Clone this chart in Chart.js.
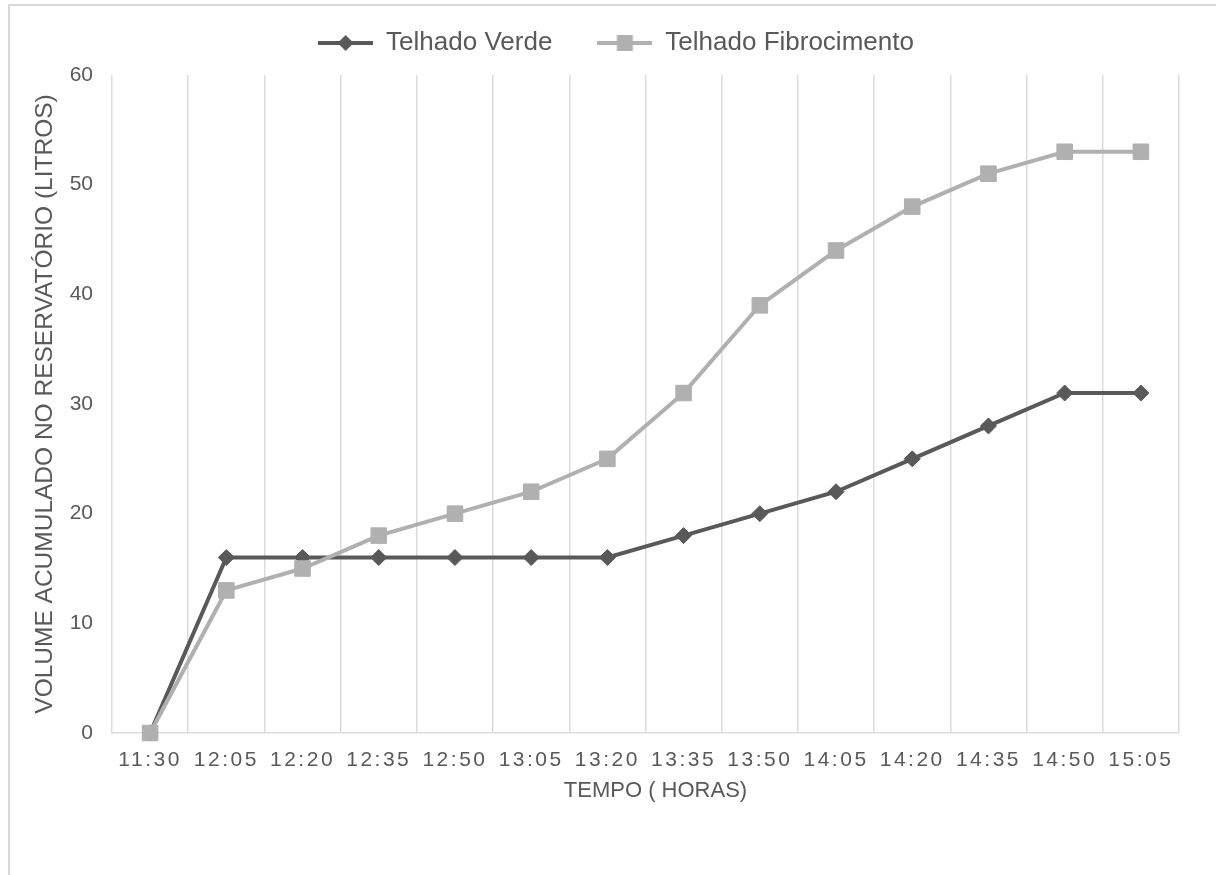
<!DOCTYPE html>
<html>
<head>
<meta charset="utf-8">
<script src="https://cdn.jsdelivr.net/npm/chart.js@4"></script>
<style>
  body { margin: 0; background: #fff; overflow: hidden; }
  #frame { position: absolute; left: 8px; top: 4px; width: 1230px; height: 900px; border: 2px solid #d9d9d9; }
  #wrap { position: absolute; left: 0; top: -15px; width: 1216px; height: 890px; }
</style>
</head>
<body>
<div id="frame"></div>
<div id="wrap"><canvas id="grafico"></canvas></div>
<script>
const horarios = ['11:30', '12:05', '12:20', '12:35', '12:50', '13:05', '13:20', '13:35', '13:50', '14:05', '14:20', '14:35', '14:50', '15:05'];
const telhadoVerde = [0, 16, 16, 16, 16, 16, 16, 18, 20, 22, 25, 28, 31, 31];
const telhadoFibrocimento = [0, 13, 15, 18, 20, 22, 25, 31, 39, 44, 48, 51, 53, 53];
const yTicks = [0, 10, 20, 30, 40, 50, 60];

const corVerde = '#595959';
const corFibro = '#b0b0b0';
const fonte = "'Liberation Sans', Arial, sans-serif";

// small picture of line + marker for the legend
function legendIcon(color, shape) {
    const c = document.createElement('canvas');
    c.width = 55; c.height = 24;
    const g = c.getContext('2d');
    g.strokeStyle = color; g.fillStyle = color; g.lineWidth = 4;
    g.beginPath(); g.moveTo(0, 12); g.lineTo(55, 12); g.stroke();
    g.beginPath();
    if (shape === 'diamond') {
        g.moveTo(27.5, 4); g.lineTo(35.5, 12); g.lineTo(27.5, 20); g.lineTo(19.5, 12);
    } else {
        g.rect(19.5, 4, 16, 16);
    }
    g.closePath(); g.fill();
    return c;
}
const icons = [legendIcon(corVerde, 'diamond'), legendIcon(corFibro, 'square')];

const ajustes = {
    id: 'ajustes',
    afterInit(chart) {
        const lg = chart.legend;
        const fit = lg.fit.bind(lg);
        lg.fit = function () { fit(); this.height += 9; };
    },
    afterLayout(chart) {
        chart.legend.left += 13;
        chart.legend.right += 13;
        const s = chart.scales.x;
        if (!s._espacado) {
            const orig = s.drawLabels;
            s.drawLabels = function (area) {
                this.ctx.save();
                this.ctx.letterSpacing = '2.5px';
                orig.call(this, area);
                this.ctx.restore();
            };
            const origTitle = s.drawTitle;
            s.drawTitle = function () {
                this.ctx.save();
                this.ctx.translate(10, 0);
                origTitle.call(this);
                this.ctx.restore();
            };
            s._espacado = true;
        }
    }
};

const ctx = document.getElementById('grafico').getContext('2d');
const grafico = new Chart(ctx, {
    type: 'line',
    data: {
        labels: horarios,
        datasets: [{
            label: 'Telhado Verde',
            data: telhadoVerde,
            borderColor: corVerde,
            backgroundColor: corVerde,
            borderWidth: 4,
            pointStyle: 'rectRot',
            pointRadius: 8,
            pointBorderWidth: 1,
            pointBorderColor: corVerde,
            pointBackgroundColor: corVerde,
            tension: 0,
            clip: false,
            order: 1
        }, {
            label: 'Telhado Fibrocimento',
            data: telhadoFibrocimento,
            borderColor: corFibro,
            backgroundColor: corFibro,
            borderWidth: 4,
            pointStyle: 'rect',
            pointRadius: 11,
            pointBorderWidth: 1,
            pointBorderColor: corFibro,
            pointBackgroundColor: corFibro,
            tension: 0,
            clip: false,
            order: 0
        }]
    },
    options: {
        responsive: true,
        maintainAspectRatio: false,
        animation: false,
        layout: { padding: { left: 27, right: 37, top: 0, bottom: 67 } },
        scales: {
            x: {
                offset: true,
                grid: { offset: true, color: '#dcdcdc', lineWidth: 1.5, drawTicks: false },
                border: { display: true, color: '#dcdcdc', width: 1.5 },
                ticks: { color: '#595959', font: { family: fonte, size: 21 }, padding: 15, maxRotation: 0, autoSkip: false },
                title: {
                    display: true,
                    text: 'TEMPO ( HORAS)',
                    color: '#595959',
                    font: { family: fonte, size: 22 },
                    padding: { top: 4, bottom: 4 }
                },
                afterFit(scale) { scale.height = 75; }
            },
            y: {
                min: 0,
                max: 60,
                afterBuildTicks(scale) { scale.ticks = yTicks.map(v => ({ value: v })); },
                grid: { display: false, drawTicks: false },
                border: { display: false },
                ticks: { color: '#595959', font: { family: fonte, size: 21 }, padding: 19 },
                title: {
                    display: true,
                    text: 'VOLUME ACUMULADO NO RESERVATÓRIO (LITROS)',
                    color: '#595959',
                    font: { family: fonte, size: 24.5 },
                    padding: { top: 4, bottom: 4 }
                },
                afterFit(scale) { scale.width = 85; }
            }
        },
        plugins: {
            legend: {
                position: 'top',
                labels: {
                    usePointStyle: true,
                    pointStyleWidth: 55,
                    padding: 45,
                    color: '#595959',
                    font: { family: fonte, size: 26 },
                    generateLabels(chart) {
                        return chart.data.datasets.map((ds, i) => ({
                            text: ds.label,
                            pointStyle: icons[i],
                            fillStyle: ds.borderColor,
                            strokeStyle: 'rgba(0,0,0,0)',
                            lineWidth: 0,
                            fontColor: '#595959',
                            hidden: false,
                            datasetIndex: i
                        }));
                    }
                }
            },
            tooltip: { enabled: false }
        }
    },
    plugins: [ajustes]
});
</script>
</body>
</html>
